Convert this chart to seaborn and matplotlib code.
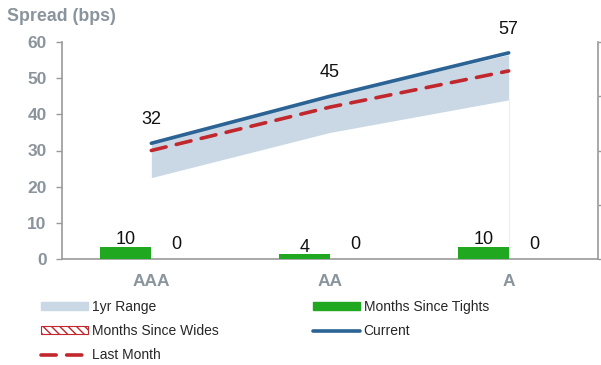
import matplotlib
matplotlib.use("Agg")
import matplotlib.pyplot as plt
import matplotlib.patches as mpatches
import matplotlib.lines as mlines
import numpy as np
import pandas as pd
import seaborn as sns

# --- data -------------------------------------------------------------
ratings = ["AAA", "AA", "A"]
current = [32, 45, 57]
last_month = [30, 42, 52]
range_low = [22.5, 35, 44]
range_high = [32, 45, 56.5]
months_since_tights = [10, 4, 10]
months_since_wides = [0, 0, 0]

# --- style ------------------------------------------------------------
sns.set_style("white")
plt.rcParams["font.family"] = ["Liberation Sans", "DejaVu Sans"]

GREY_TXT = "#8a949c"
SPINE = "#9a9a9a"
BLUE = "#2b6394"
RED = "#c1272d"
GREEN = "#21a821"
BAND = "#c9d8e4"

fig = plt.figure(figsize=(6.01, 3.65), dpi=100)
ax = fig.add_axes([62 / 601, 1 - 259 / 365, (598 - 62) / 601, (259 - 42) / 365])
ax2 = ax.twinx()

x = np.arange(len(ratings))

# 1yr range band
ax.fill_between(x, range_low, range_high, color=BAND, lw=0, zorder=1)
ax.vlines(x[-1], 0, range_low[-1], color="#eeeeee", lw=0.8, zorder=0.5)

# lines
line_df = pd.DataFrame({"x": x, "current": current, "last": last_month})
sns.lineplot(data=line_df, x="x", y="last", ax=ax, color=RED, lw=2.6,
             dashes=False, zorder=3)
ax.lines[-1].set_dashes((4.2, 2.9))
ax.lines[-1].set_dash_capstyle("round")
sns.lineplot(data=line_df, x="x", y="current", ax=ax, color=BLUE, lw=2.6,
             zorder=4)
ax.lines[-1].set_solid_capstyle("round")

for xi, v in zip(x, current):
    ax.annotate(f"{v}", (xi, v), xytext=(0, 11), textcoords="offset points",
                ha="center", va="bottom", fontsize=13, color="#111111")

ax.set_xlim(-0.5, 2.5)
ax.set_ylim(0, 60)
ax.set_yticks(range(0, 61, 10))
ax.set_xticks([-0.5, 0.5, 1.5, 2.5])
ax.set_xticklabels([])
ax.tick_params(axis="x", which="major", length=4, color=SPINE, width=1, direction="out")
ax.set_xticks(x, minor=True)
ax.set_xticklabels(ratings, minor=True)
ax.tick_params(axis="x", which="minor", length=0, pad=11, labelsize=12.5,
               labelcolor=GREY_TXT)
for lab in ax.get_xticklabels(minor=True):
    lab.set_fontweight("bold")
ax.tick_params(axis="y", length=4, color=SPINE, width=1, labelsize=12.5,
               labelcolor=GREY_TXT, pad=7, left=True)
for lab in ax.get_yticklabels():
    lab.set_fontweight("bold")
ax.set_xlabel("")
ax.set_ylabel("")

for side in ["top", "right"]:
    ax.spines[side].set_visible(False)
for side in ["left", "bottom"]:
    ax.spines[side].set_color(SPINE)
    ax.spines[side].set_linewidth(1.2)

# bars on the secondary axis
bar_df = pd.DataFrame({
    "rating": ratings * 2,
    "months": months_since_tights + months_since_wides,
    "series": ["Months Since Tights"] * 3 + ["Months Since Wides"] * 3,
})
sns.barplot(data=bar_df, x="rating", y="months", hue="series", ax=ax2,
            palette=[GREEN, "white"], width=0.57, gap=0, legend=False,
            saturation=1, linewidth=0)
for p in ax2.containers[1]:
    p.set_edgecolor(RED)
    p.set_hatch("\\\\\\\\")
ax2.bar_label(ax2.containers[0], padding=-1, fontsize=13, color="#111111")
ax2.bar_label(ax2.containers[1], padding=4, fontsize=13, color="#111111")

ax2.set_xlim(-0.5, 2.5)
ax2.set_ylim(0, 180)
ax2.set_yticks(np.arange(0, 181, 45))
ax2.set_yticklabels([])
ax2.tick_params(axis="y", length=4, color=SPINE, width=1, direction="out")
ax2.set_xlabel("")
ax2.set_ylabel("")
for side in ["top", "left", "bottom"]:
    ax2.spines[side].set_visible(False)
ax2.spines["right"].set_color(SPINE)
ax2.spines["right"].set_linewidth(1.2)

fig.text(7 / 601, 1 - 21 / 365, "Spread (bps)", fontsize=12.8, fontweight="bold",
         color=GREY_TXT, ha="left", va="baseline")

# legend
hatch_patch = mpatches.Patch(facecolor="white", edgecolor=RED, hatch="\\\\\\\\",
                             linewidth=0.8, label="Months Since Wides")
handles = [
    mpatches.Patch(color=BAND, label="1yr Range"),
    hatch_patch,
    mlines.Line2D([], [], color=RED, lw=2.6, dashes=(4.2, 2.9),
                  dash_capstyle="round", label="Last Month"),
    mpatches.Patch(color=GREEN, label="Months Since Tights"),
    mlines.Line2D([], [], color=BLUE, lw=2.6, solid_capstyle="round",
                  label="Current"),
]
fig.legend(handles=handles, loc="upper left", ncol=2,
           bbox_to_anchor=(41 / 601, 1 - 300 / 365), frameon=False,
           fontsize=10, handlelength=3.4, handleheight=0.5, handletextpad=0.25,
           columnspacing=6.8, labelspacing=0.72, borderpad=0, borderaxespad=0)

fig.savefig("out.png", dpi=100)
